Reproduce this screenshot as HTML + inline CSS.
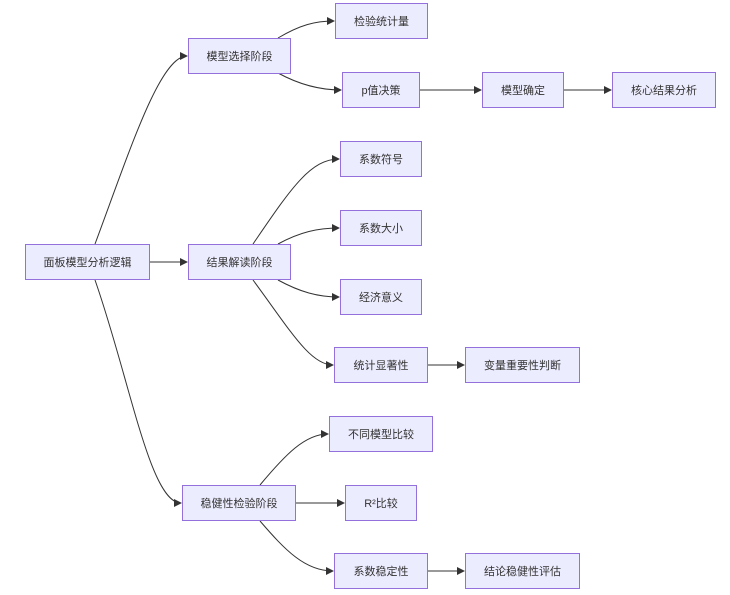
<!DOCTYPE html>
<html><head><meta charset="utf-8"><style>
body{margin:0;background:#fff;width:730px;height:595px;overflow:hidden;position:relative;font-family:"Liberation Sans","Noto Sans CJK SC",sans-serif}
.n{position:absolute;box-sizing:border-box;background:#ececff;border:1px solid #9370db;display:flex;align-items:center;justify-content:center;font-size:11px;color:#333}
svg{position:absolute;left:0;top:0}
</style></head><body>
<svg width="730" height="595">
<defs><marker id="a" markerWidth="8" markerHeight="8" refX="7" refY="4" orient="auto" markerUnits="userSpaceOnUse"><path d="M0,0L8,4L0,8z" fill="#333"/></marker></defs>
<g fill="none" stroke="#333" stroke-width="1" marker-end="url(#a)">
<path d="M95,244 C130,150 160,56 187,56"/>
<path d="M150,262 L187,262"/>
<path d="M95,280 C130,380 150,503 181,503"/>
<path d="M278,38 C300,25 315,21 334,21"/>
<path d="M278,73 C300,85 320,90 341,90"/>
<path d="M420,90 L481,90"/>
<path d="M564,90 L611,90"/>
<path d="M253,244 C290,190 310,159 339,159"/>
<path d="M278,244 C300,232 318,228 339,228"/>
<path d="M278,280 C300,292 318,297 339,297"/>
<path d="M253,280 C290,330 310,365 333,365"/>
<path d="M428,365 L464,365"/>
<path d="M260,485 C285,455 305,434 328,434"/>
<path d="M296,503 L344,503"/>
<path d="M260,521 C285,550 305,571 333,571"/>
<path d="M428,571 L464,571"/>
</g></svg>
<div class="n" style="left:25px;top:244px;width:125px;height:36px">面板模型分析逻辑</div>
<div class="n" style="left:188px;top:38px;width:103px;height:36px">模型选择阶段</div>
<div class="n" style="left:188px;top:244px;width:103px;height:36px">结果解读阶段</div>
<div class="n" style="left:182px;top:485px;width:114px;height:36px">稳健性检验阶段</div>
<div class="n" style="left:335px;top:3px;width:93px;height:36px">检验统计量</div>
<div class="n" style="left:342px;top:72px;width:78px;height:36px">p值决策</div>
<div class="n" style="left:482px;top:72px;width:82px;height:36px">模型确定</div>
<div class="n" style="left:612px;top:72px;width:104px;height:36px">核心结果分析</div>
<div class="n" style="left:340px;top:141px;width:82px;height:36px">系数符号</div>
<div class="n" style="left:340px;top:210px;width:82px;height:36px">系数大小</div>
<div class="n" style="left:340px;top:279px;width:82px;height:36px">经济意义</div>
<div class="n" style="left:334px;top:347px;width:94px;height:36px">统计显著性</div>
<div class="n" style="left:465px;top:347px;width:115px;height:36px">变量重要性判断</div>
<div class="n" style="left:329px;top:416px;width:104px;height:36px">不同模型比较</div>
<div class="n" style="left:345px;top:485px;width:72px;height:36px">R²比较</div>
<div class="n" style="left:334px;top:553px;width:94px;height:36px">系数稳定性</div>
<div class="n" style="left:465px;top:553px;width:115px;height:36px">结论稳健性评估</div>
</body></html>
